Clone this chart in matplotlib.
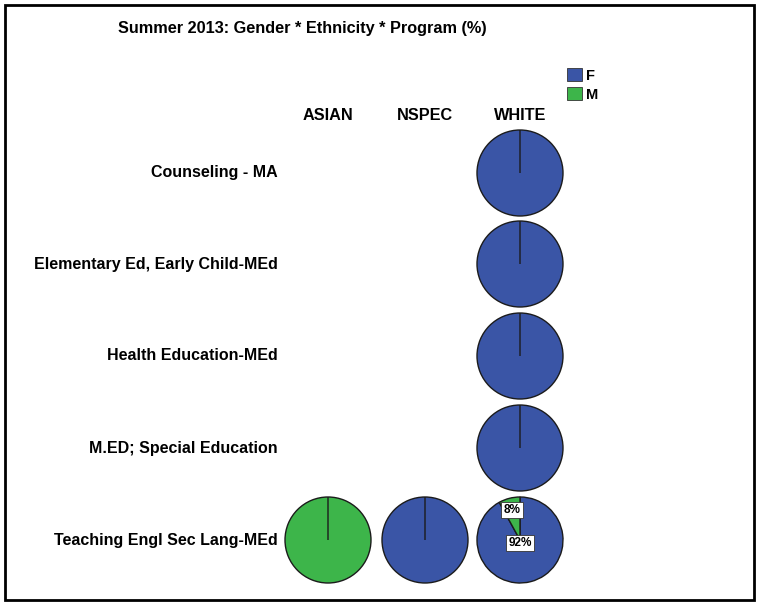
import matplotlib.pyplot as plt
from matplotlib.patches import Patch, Rectangle

plt.rcParams['font.family'] = ['Liberation Sans', 'DejaVu Sans']

title = 'Summer 2013: Gender * Ethnicity * Program (%)'
genders = ['F', 'M']
ethnicities = ['ASIAN', 'NSPEC', 'WHITE']
programs = ['Counseling - MA', 'Elementary Ed, Early Child-MEd',
            'Health Education-MEd', 'M.ED; Special Education',
            'Teaching Engl Sec Lang-MEd']

# percentages (F, M) per program and ethnicity; None = no students
female = [[None, None, 100],
          [None, None, 100],
          [None, None, 100],
          [None, None, 100],
          [0, 100, 92]]
male = [[None, None, 0],
        [None, None, 0],
        [None, None, 0],
        [None, None, 0],
        [100, 0, 8]]
# which pie carries percentage labels
labelled = (4, 2)

colors = ['#3a55a6', '#3db54a']

W, H = 759, 605
fig = plt.figure(figsize=(W / 100, H / 100), dpi=100)
ax = fig.add_axes([0, 0, 1, 1])

col_x = [328, 425, 520]
row_y = [H - 173, H - 264, H - 356, H - 448, H - 540]
radius = 43

ax.add_patch(Rectangle((5, 5), W - 10, H - 10, fill=False, edgecolor='black', lw=2))

ax.text(118, H - 28, title, fontsize=11.7, fontweight='bold', va='center', ha='left')

for j, eth in enumerate(ethnicities):
    ax.text(col_x[j], H - 116, eth, fontsize=11.7, fontweight='bold', ha='center', va='center')

for i, prog in enumerate(programs):
    ax.text(278, row_y[i], prog, fontsize=11.5, fontweight='bold', ha='right', va='center')
    for j in range(len(ethnicities)):
        f, m = female[i][j], male[i][j]
        if f is None:
            continue
        vals = [f, m]
        kw = {}
        if (i, j) == labelled:
            kw = dict(autopct='%1.0f%%', pctdistance=0.72)
        res = ax.pie(vals, colors=colors, startangle=90, counterclock=False,
                     center=(col_x[j], row_y[i]), radius=radius,
                     wedgeprops=dict(edgecolor='#1b1b1b', linewidth=1), frame=True, **kw)
        for w, v in zip(res[0], vals):
            if v == 0:
                w.set_zorder(3)
        if (i, j) == labelled:
            autotexts = res[2]
            for t in autotexts:
                t.set_fontsize(8.5)
                t.set_fontweight('bold')
                t.set_zorder(5)
                t.set_bbox(dict(facecolor='white', edgecolor='#333333', lw=0.6, pad=1.8))
            autotexts[0].set_position((col_x[j], row_y[i] - 3))

ax.set_xlim(0, W)
ax.set_ylim(0, H)
ax.set_aspect('equal')
ax.axis('off')

handles = [Patch(facecolor=c, edgecolor='#333333', lw=0.6) for c in colors]
fig.legend(handles, genders, loc='upper left', bbox_to_anchor=(554 / W, 1 - 55 / H),
           frameon=False, handlelength=1.0, handleheight=1.0, handletextpad=0.3,
           labelspacing=0.3, prop=dict(size=10.5, weight='bold'))

fig.savefig('out.png', dpi=100)
